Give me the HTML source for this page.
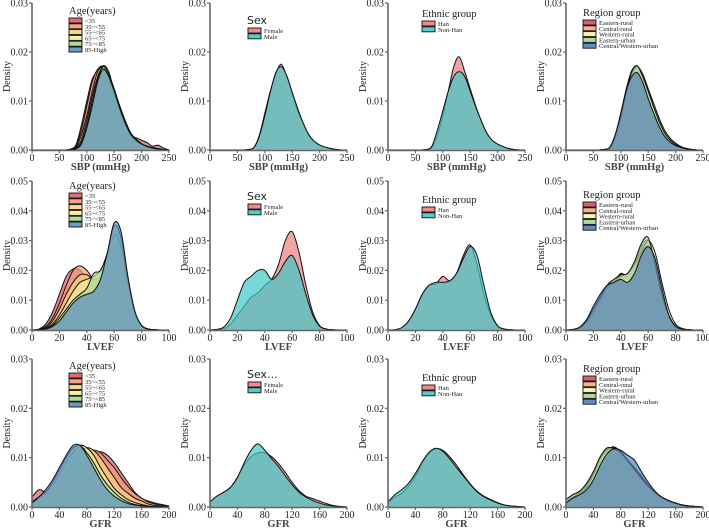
<!DOCTYPE html>
<html><head><meta charset="utf-8">
<style>
html,body{margin:0;padding:0;background:#fff;}
svg{display:block;font-family:"Liberation Serif",serif;}
</style></head>
<body>
<svg id="chart" width="709" height="528" viewBox="0 0 709 528" xmlns="http://www.w3.org/2000/svg"></svg>
<script>
// ---------- data ----------
const sbpX = [60,70,80,90,100,110,120,130,140,150,160,170,180,190,200,210,220,230,240,250];
const lvefX = [0,5,10,15,20,25,30,35,40,45,50,55,60,65,70,75,80,85,90,95,100];
const gfrX = [0,10,20,30,40,50,60,70,80,90,100,110,120,130,140,150,160,170,180,190,200];

const ageLabels = ['<35','35~<55','55~<65','65~<75','75~<85','85-High'];
const sexLabels = ['Female','Male'];
const ethLabels = ['Han','Non-Han'];
const regLabels = ['Eastern-rural','Central-rural','Western-rural','Eastern-urban','Central/Western-urban'];

const sbpAge = [
 [0,0.0002,0.001,0.005,0.010,0.0145,0.016,0.017,0.014,0.011,0.008,0.005,0.003,0.0025,0.002,0.0015,0.0008,0.001,0.0004,0],
 [0,0.0001,0.0008,0.004,0.009,0.014,0.0165,0.017,0.0145,0.011,0.008,0.005,0.003,0.002,0.0012,0.0008,0.0005,0.0003,0.0001,0],
 [0,0,0.0005,0.003,0.007,0.012,0.016,0.017,0.015,0.0115,0.0085,0.0055,0.0032,0.002,0.0012,0.0007,0.0004,0.0002,0.0001,0],
 [0,0,0.0003,0.002,0.006,0.011,0.015,0.0172,0.016,0.012,0.009,0.006,0.0035,0.002,0.0012,0.0007,0.0004,0.0002,0.0001,0],
 [0,0,0.0002,0.0015,0.005,0.010,0.0145,0.017,0.0155,0.0125,0.009,0.006,0.0035,0.0022,0.0013,0.0007,0.0004,0.0002,0.0001,0],
 [0,0,0.0002,0.0012,0.0045,0.009,0.014,0.0165,0.015,0.012,0.0085,0.0055,0.0032,0.002,0.0012,0.0007,0.0004,0.0002,0.0001,0]
];
const sbpSex = [
 [0,0.0001,0.0005,0.003,0.0075,0.012,0.0155,0.0175,0.015,0.0115,0.008,0.0055,0.003,0.0018,0.001,0.0006,0.0003,0.0001,0,0],
 [0,0.0001,0.0005,0.0028,0.007,0.0118,0.0158,0.017,0.0152,0.0118,0.0085,0.0055,0.0032,0.0018,0.001,0.0006,0.0003,0.0001,0,0]
];
const sbpEth = [
 [0,0.0001,0.0005,0.003,0.007,0.012,0.017,0.019,0.016,0.0125,0.009,0.006,0.0035,0.002,0.0012,0.0007,0.0003,0.0001,0,0],
 [0,0.0001,0.0008,0.004,0.008,0.012,0.015,0.016,0.015,0.012,0.0088,0.006,0.0035,0.002,0.0012,0.0007,0.0003,0.0001,0,0]
];
const sbpReg = [
 [0,0.0001,0.0005,0.003,0.0075,0.0125,0.0162,0.017,0.014,0.0105,0.0075,0.0048,0.0028,0.0016,0.0009,0.0005,0.0002,0.0001,0,0],
 [0,0.0001,0.0005,0.003,0.007,0.012,0.016,0.0165,0.015,0.012,0.0088,0.006,0.0038,0.0022,0.0012,0.0006,0.0003,0.0001,0,0],
 [0,0.0001,0.0004,0.0025,0.0065,0.0115,0.0155,0.017,0.0155,0.0125,0.0095,0.0065,0.004,0.0024,0.0014,0.0007,0.0003,0.0001,0,0],
 [0,0.0001,0.0005,0.003,0.007,0.012,0.016,0.0172,0.015,0.012,0.0088,0.0058,0.0035,0.002,0.0011,0.0006,0.0003,0.0001,0,0],
 [0,0.0001,0.0006,0.0032,0.0075,0.0122,0.015,0.0158,0.0138,0.0105,0.0075,0.0048,0.0028,0.0016,0.0009,0.0005,0.0002,0.0001,0,0]
];
const lvefAge = [
 [0,0.0003,0.002,0.006,0.012,0.018,0.0205,0.020,0.017,0.015,0.016,0.018,0.020,0.017,0.010,0.004,0.0012,0.0003,0.0001,0,0],
 [0,0.0002,0.0012,0.004,0.009,0.015,0.020,0.0215,0.020,0.017,0.017,0.020,0.024,0.020,0.012,0.005,0.0015,0.0003,0.0001,0,0],
 [0,0.0001,0.0008,0.003,0.007,0.012,0.016,0.0185,0.0185,0.017,0.018,0.022,0.028,0.024,0.014,0.006,0.0015,0.0003,0.0001,0,0],
 [0,0.0001,0.0005,0.002,0.005,0.009,0.013,0.016,0.017,0.018,0.020,0.025,0.032,0.028,0.016,0.006,0.0015,0.0003,0.0001,0,0],
 [0,0,0.0004,0.0015,0.004,0.007,0.010,0.012,0.014,0.019,0.020,0.026,0.035,0.031,0.017,0.006,0.0015,0.0003,0.0001,0,0],
 [0,0,0.0003,0.0012,0.003,0.006,0.009,0.011,0.012,0.013,0.017,0.026,0.036,0.033,0.018,0.0065,0.0015,0.0003,0.0001,0,0]
];
const lvefSex = [
 [0,0.0001,0.0005,0.002,0.005,0.008,0.011,0.0125,0.015,0.017,0.022,0.030,0.033,0.026,0.015,0.006,0.0015,0.0003,0.0001,0,0],
 [0,0.0002,0.001,0.004,0.010,0.016,0.018,0.020,0.020,0.017,0.019,0.023,0.025,0.020,0.012,0.005,0.0013,0.0003,0.0001,0,0]
];
const lvefEth = [
 [0,0.0001,0.0008,0.003,0.007,0.012,0.015,0.0155,0.018,0.0165,0.019,0.025,0.0285,0.022,0.012,0.005,0.0012,0.0003,0.0001,0,0],
 [0,0.0001,0.0008,0.003,0.007,0.012,0.015,0.016,0.016,0.0165,0.019,0.024,0.028,0.025,0.015,0.006,0.0015,0.0003,0.0001,0,0]
];
const lvefReg = [
 [0,0.0001,0.0008,0.003,0.007,0.011,0.0145,0.016,0.019,0.018,0.021,0.027,0.029,0.022,0.012,0.005,0.0012,0.0003,0.0001,0,0],
 [0,0.0001,0.0008,0.003,0.007,0.011,0.015,0.017,0.018,0.018,0.022,0.028,0.030,0.023,0.013,0.005,0.0015,0.0004,0.0001,0,0],
 [0,0.0001,0.0006,0.0025,0.006,0.010,0.014,0.016,0.018,0.019,0.022,0.026,0.030,0.026,0.016,0.007,0.002,0.0005,0.0001,0,0],
 [0,0.0001,0.0008,0.003,0.007,0.011,0.015,0.017,0.0185,0.019,0.023,0.029,0.031,0.022,0.012,0.005,0.0012,0.0003,0.0001,0,0],
 [0,0.0002,0.001,0.0035,0.008,0.012,0.015,0.016,0.017,0.016,0.019,0.025,0.028,0.024,0.014,0.005,0.0012,0.0003,0.0001,0,0]
];
const gfrAge = [
 [0.002,0.0035,0.003,0.003,0.004,0.005,0.006,0.0075,0.009,0.0105,0.0112,0.0105,0.009,0.007,0.005,0.003,0.0018,0.0012,0.0008,0.0005,0.0002],
 [0.001,0.002,0.0025,0.003,0.004,0.0055,0.007,0.0085,0.0105,0.0115,0.011,0.0095,0.008,0.006,0.0042,0.0028,0.0018,0.001,0.0006,0.0003,0.0001],
 [0.0008,0.002,0.0025,0.0035,0.005,0.007,0.009,0.011,0.012,0.0115,0.010,0.008,0.006,0.004,0.0028,0.0018,0.0012,0.0006,0.0003,0.0001,0],
 [0.0008,0.002,0.003,0.0045,0.0065,0.009,0.011,0.0125,0.012,0.0105,0.008,0.0058,0.0038,0.0025,0.0015,0.0009,0.0005,0.0002,0.0001,0,0],
 [0.0008,0.002,0.003,0.005,0.0075,0.010,0.012,0.0125,0.011,0.009,0.0065,0.0045,0.003,0.0018,0.001,0.0005,0.0003,0.0001,0,0,0],
 [0.0008,0.002,0.0035,0.0055,0.008,0.0105,0.0125,0.0125,0.0105,0.008,0.0055,0.0035,0.0022,0.0013,0.0007,0.0004,0.0002,0.0001,0,0,0]
];
const gfrSex = [
 [0.001,0.0022,0.003,0.004,0.006,0.0085,0.0102,0.011,0.011,0.0102,0.0088,0.007,0.005,0.0033,0.0022,0.0017,0.0012,0.0007,0.0003,0.0001,0],
 [0.001,0.0022,0.003,0.004,0.006,0.009,0.0115,0.0128,0.0115,0.0098,0.0082,0.0063,0.0045,0.003,0.002,0.0013,0.0008,0.0004,0.0002,0.0001,0]
];
const gfrEth = [
 [0.001,0.002,0.0028,0.0042,0.0062,0.009,0.011,0.0118,0.0115,0.0102,0.0085,0.0065,0.0047,0.0032,0.0022,0.0015,0.0009,0.0004,0.0002,0.0001,0],
 [0.001,0.0025,0.0035,0.0048,0.0068,0.0092,0.0111,0.0119,0.0113,0.0098,0.008,0.0063,0.0046,0.0031,0.0021,0.0014,0.0008,0.0004,0.0002,0.0001,0]
];
const gfrReg = [
 [0.001,0.002,0.003,0.0042,0.0065,0.0095,0.0115,0.0122,0.0112,0.0095,0.008,0.0063,0.0045,0.003,0.002,0.0013,0.0008,0.0004,0.0002,0.0001,0],
 [0.0015,0.0025,0.0032,0.0045,0.007,0.010,0.0118,0.0118,0.011,0.0095,0.0078,0.006,0.0043,0.003,0.002,0.0013,0.0008,0.0004,0.0002,0.0001,0],
 [0.001,0.002,0.0028,0.004,0.0065,0.0098,0.0115,0.012,0.0112,0.0095,0.0078,0.006,0.0044,0.003,0.002,0.0013,0.0008,0.0004,0.0002,0.0001,0],
 [0.0015,0.0025,0.0032,0.0048,0.0072,0.0102,0.012,0.0118,0.011,0.0093,0.0076,0.0058,0.0042,0.0029,0.0019,0.0012,0.0007,0.0003,0.0001,0.0001,0],
 [0.0008,0.0018,0.0025,0.0035,0.0055,0.0085,0.0108,0.0118,0.0115,0.0105,0.0095,0.0072,0.005,0.0032,0.002,0.0013,0.0008,0.0004,0.0002,0.0001,0]
];

const sbpTicks = [0,50,100,150,200,250];
const lvefTicks = [0,20,40,60,80,100];
const gfrTicks = [0,40,80,120,160,200];
const yTicksSmall = [0,0.01,0.02,0.03];
const yTicksLarge = [0,0.01,0.02,0.03,0.04,0.05];

// ---------- styles ----------
const ageColors = ['#e05a6a','#f49a78','#fbd37c','#eeeea0','#a8d890','#5a90c8'];
const sexColors = ['#f07c7e','#3fc8c6'];
const ethColors = ['#f07c7e','#3fc8c6'];
const regColors = ['#d4505f','#f4ac7c','#f8f2b4','#a8d596','#5282bc'];

const NS = 'http://www.w3.org/2000/svg';
const svg = document.getElementById('chart');
function mk(tag, attrs, parent){
  const e = document.createElementNS(NS, tag);
  for (const k in attrs) e.setAttribute(k, attrs[k]);
  (parent||svg).appendChild(e);
  return e;
}

const colX = [32,210,388,566];
const plotW = 137;
const rows = [
  {top:3, bot:150, ymax:0.03, yt:yTicksSmall, xs:sbpX, dom:[0,250], xt:sbpTicks, title:'SBP (mmHg)', key:'sbp'},
  {top:181, bot:330, ymax:0.05, yt:yTicksLarge, xs:lvefX, dom:[0,100], xt:lvefTicks, title:'LVEF', key:'lvef'},
  {top:359, bot:507, ymax:0.03, yt:yTicksSmall, xs:gfrX, dom:[0,200], xt:gfrTicks, title:'GFR', key:'gfr'}
];
const groups = [
  {name:'age', title:'Age(years)', labels:ageLabels, colors:ageColors, alpha:0.7, lx:37, ly:[14,189,369], sans:false},
  {name:'sex', title:'Sex', labels:sexLabels, colors:sexColors, alpha:0.7, lx:38, ly:[24,200,378], sans:true},
  {name:'ethnic', title:'Ethnic group', labels:ethLabels, colors:ethColors, alpha:0.7, lx:34, ly:[17,203,381], sans:false},
  {name:'region', title:'Region group', labels:regLabels, colors:regColors, alpha:0.7, lx:17, ly:[16,198,372], sans:false}
];
const seriesData = {
  sbp:[sbpAge,sbpSex,sbpEth,sbpReg],
  lvef:[lvefAge,lvefSex,lvefEth,lvefReg],
  gfr:[gfrAge,gfrSex,gfrEth,gfrReg]
};

function curvePath(pts, base){
  let d = '';
  for (let i=0;i<pts.length-1;i++){
    const p0 = pts[Math.max(0,i-1)], p1 = pts[i], p2 = pts[i+1], p3 = pts[Math.min(pts.length-1,i+2)];
    const c1x = p1[0]+(p2[0]-p0[0])/6, c1y = Math.min(base, p1[1]+(p2[1]-p0[1])/6);
    const c2x = p2[0]-(p3[0]-p1[0])/6, c2y = Math.min(base, p2[1]-(p3[1]-p1[1])/6);
    d += ' C'+c1x.toFixed(2)+','+c1y.toFixed(2)+' '+c2x.toFixed(2)+','+c2y.toFixed(2)+' '+p2[0].toFixed(2)+','+p2[1].toFixed(2);
  }
  return d;
}

rows.forEach((r, ri)=>{
  groups.forEach((g, gi)=>{
    const x0 = colX[gi];
    const sx = v => x0 + (v - r.dom[0])/(r.dom[1]-r.dom[0])*plotW;
    const sy = v => r.bot - v/r.ymax*(r.bot-r.top);
    const panel = mk('g', {});
    
    

    const data = seriesData[r.key][gi];
    data.forEach((vals, si)=>{
      const pts = r.xs.map((xv,i)=>[sx(xv), sy(vals[i])]);
      let d = 'M'+sx(r.dom[0]).toFixed(2)+','+r.bot+' L'+pts[0][0].toFixed(2)+','+pts[0][1].toFixed(2)+curvePath(pts, r.bot);
      const fillD = d + ' L'+sx(r.dom[1]).toFixed(2)+','+r.bot+' Z';
      const area = mk('path', {d:fillD, fill:g.colors[si], 'fill-opacity':g.alpha, stroke:'none'}, panel);
      
      
      const line = mk('path', {d:d, fill:'none', stroke:'#111', 'stroke-width':1}, panel);
      
      
    });

    const yAxis = mk('line', {x1:x0, y1:r.top, x2:x0, y2:r.bot+1, stroke:'#666', 'stroke-width':1.6}, panel);
    
    
    const xAxis = mk('line', {x1:x0, y1:r.bot+0.5, x2:x0+plotW, y2:r.bot+0.5, stroke:'#666', 'stroke-width':1.6}, panel);
    
    
    r.yt.forEach(t=>{
      const y = sy(t);
      mk('line', {x1:x0-3, y1:y, x2:x0, y2:y, stroke:'#666', 'stroke-width':1.2}, panel);
      const tl = mk('text', {x:x0-4, y:y+3.5, 'text-anchor':'end', 'font-size':10, fill:'#222'}, panel);
      tl.textContent = t.toFixed(2);
      
      
    });
    r.xt.forEach(t=>{
      const x = sx(t);
      mk('line', {x1:x, y1:r.bot, x2:x, y2:r.bot+3, stroke:'#666', 'stroke-width':1.2}, panel);
      const tl = mk('text', {x:x, y:r.bot+11, 'text-anchor':'middle', 'font-size':10, fill:'#222'}, panel);
      tl.textContent = t;
      
      
    });
    const yt = mk('text', {x:0, y:0, 'text-anchor':'middle', 'font-size':10, fill:'#222', transform:'translate('+(x0-22)+','+((r.top+r.bot)/2)+') rotate(-90)'}, panel);
    yt.textContent = 'Density';
    
    
    const xt = mk('text', {x:x0+plotW/2, y:r.bot+20, 'text-anchor':'middle', 'font-size':10.5, 'font-weight':'bold', fill:'#444'}, panel);
    xt.textContent = r.title;
    
    

    const lg = mk('g', {}, panel);
    
    
    const lx = x0 + g.lx, ly = g.ly[ri];
    const title = mk('text', {x:lx - (g.sans?1:0), y:ly, 'font-size':g.sans?11:10.5, fill:'#222', 'font-family':g.sans?'"DejaVu Sans","Liberation Sans",sans-serif':'"Liberation Serif",serif'}, lg);
    title.textContent = (g.sans && ri===2) ? 'Sex...' : g.title;
    
    
    g.labels.forEach((lab, si)=>{
      const yy = ly + 4 + si*5.8;
      const sw = mk('rect', {x:lx, y:yy, width:13, height:5, fill:g.colors[si], 'fill-opacity':0.9, stroke:'#111', 'stroke-width':0.9}, lg);
      
      
      const tx = mk('text', {x:lx+16, y:yy+5, 'font-size':6.5, fill:'#222'}, lg);
      tx.textContent = lab;
      
      
    });
  });
});
</script>
</body></html>
